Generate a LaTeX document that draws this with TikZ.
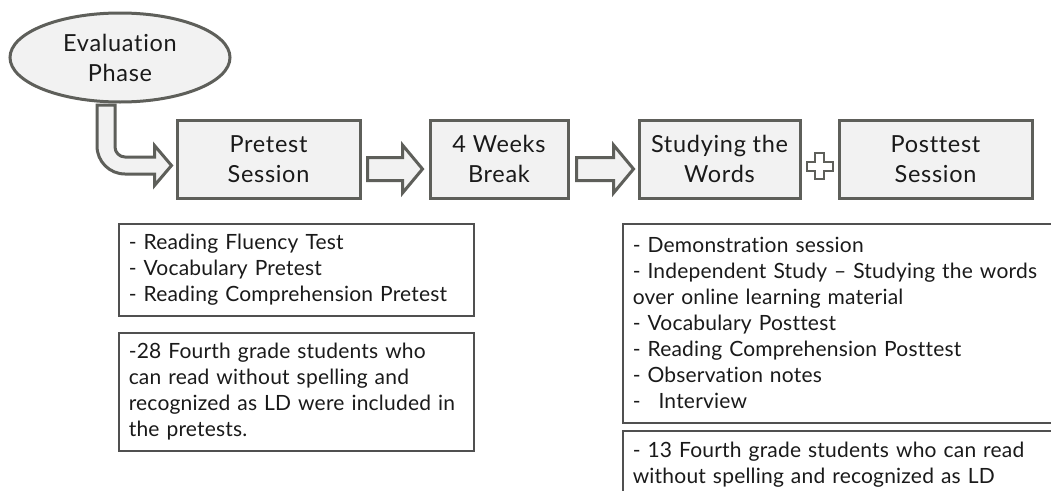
\documentclass[tikz,border=0pt]{standalone}
\usepackage{fontspec}
\setmainfont{Lato}[Ligatures=NoCommon]
\newfontfamily\topfont{Lato}[LetterSpace=3,Ligatures=NoCommon]
\newfontfamily\boxfont{Lato}[LetterSpace=1,Ligatures=NoCommon]
\usetikzlibrary{shapes.geometric,calc}
\definecolor{edgegray}{HTML}{5E5F5A}
\definecolor{boxfill}{HTML}{F2F2F2}
\definecolor{thingray}{HTML}{505050}
\definecolor{inkcol}{HTML}{1A1A1A}
\begin{document}
\begin{tikzpicture}[x=1pt,y=-1pt,
  stage/.style={draw=edgegray, line width=3pt, fill=boxfill, align=center, text=inkcol,
    inner sep=0pt, minimum height=78pt, font=\topfont\fontsize{23.5}{30}\selectfont},
  info/.style={draw=thingray, line width=1.5pt, fill=white, align=left, text=inkcol,
    anchor=north west, inner xsep=10pt, inner ysep=0pt,
    font=\boxfont\fontsize{21}{26}\selectfont},
  barrow/.style={draw=edgegray, line width=3pt, fill=boxfill, line join=miter},
  plusstyle/.style={draw=edgegray, line width=2pt, fill=white, line join=miter}]
\clip (0,0) rectangle (1051,490);
\fill[white] (0,0) rectangle (1051,490);

% nodes
\node[ellipse, draw=edgegray, line width=3pt, fill=boxfill, inner sep=0pt,
  minimum width=220pt, minimum height=89pt, align=center, text=inkcol,
  font=\topfont\fontsize{23.5}{30}\selectfont] (eval) at (120,57.5) {Evaluation\\Phase};

\node[stage, minimum width=183pt] (pre) at (268.5,159) {Pretest\\Session};
\node[stage, minimum width=138pt] (wk) at (499,159) {4 Weeks\\Break};
\node[stage, minimum width=161pt] (stud) at (719.5,159) {Studying the\\Words};
\node[stage, minimum width=193pt] (post) at (935.5,159) {Posttest\\Session};

\node[info, text width=335pt, minimum height=92pt] (lt) at (118,223)
  {- Reading Fluency Test\\- Vocabulary Pretest\\- Reading Comprehension Pretest};
\node[info, text width=335pt, minimum height=118pt] (lb) at (118,332)
  {-28 Fourth grade students who\\can read without spelling and\\recognized as LD were included in\\the pretests.};
\node[info, text width=420pt, minimum height=199pt] (rt) at (622,223)
  {- Demonstration session\\- Independent Study – Studying the words\\over online learning material\\- Vocabulary Posttest\\- Reading Comprehension Posttest\\- Observation notes\\-\hspace{18pt}Interview};
\node[info, text width=420pt, inner ysep=11pt] (rb) at (622,430)
  {- 13 Fourth grade students who can read\\without spelling and recognized as LD};

% bent arrow from evaluation phase to pretest session
\coordinate (bs) at ($(eval.south)+(-14,0)$);
\coordinate (bt) at ($(pre.west)+(-4,6.5)$);
\coordinate (bc) at (bs |- bt);
\draw[barrow] ($(bs)+(-9,1.5)$) -- ($(bs)+(9,1.5)$) -- ($(bc)+(9,-18.5)$)
  .. controls ($(bc)+(9,-13)$) and ($(bc)+(13.5,-8.5)$) .. ($(bc)+(19,-8.5)$)
  -- ($(bt)+(-17,-8.5)$) -- ($(bt)+(-17,-20)$) -- (bt) -- ($(bt)+(-17,20)$)
  -- ($(bt)+(-17,8.5)$) -- ($(bc)+(19,8.5)$)
  .. controls ($(bc)+(3.5,8.5)$) and ($(bc)+(-9,-4)$) .. ($(bc)+(-9,-19.5)$)
  -- cycle;

% block arrows between stages
\coordinate (a1s) at ($(pre.east)+(6,10)$);
\coordinate (a1t) at ($(wk.west)+(-6,10)$);
\draw[barrow] ($(a1s)+(0,-11.5)$) -- ($(a1t)+(-20,-11.5)$) -- ($(a1t)+(-20,-24)$)
  -- (a1t) -- ($(a1t)+(-20,24)$) -- ($(a1t)+(-20,11.5)$) -- ($(a1s)+(0,11.5)$) -- cycle;
\coordinate (a2s) at ($(wk.east)+(7,10)$);
\coordinate (a2t) at ($(stud.west)+(-4,10)$);
\draw[barrow] ($(a2s)+(0,-11.5)$) -- ($(a2t)+(-20,-11.5)$) -- ($(a2t)+(-20,-24)$)
  -- (a2t) -- ($(a2t)+(-20,24)$) -- ($(a2t)+(-20,11.5)$) -- ($(a2s)+(0,11.5)$) -- cycle;

% plus sign
\coordinate (pc) at ($(stud.east)!0.5!(post.west)+(0,7)$);
\draw[plusstyle] ($(pc)+(-4.5,-13)$) -- ($(pc)+(4.5,-13)$) -- ($(pc)+(4.5,-4.5)$)
  -- ($(pc)+(13,-4.5)$) -- ($(pc)+(13,4.5)$) -- ($(pc)+(4.5,4.5)$) -- ($(pc)+(4.5,13)$)
  -- ($(pc)+(-4.5,13)$) -- ($(pc)+(-4.5,4.5)$) -- ($(pc)+(-13,4.5)$) -- ($(pc)+(-13,-4.5)$)
  -- ($(pc)+(-4.5,-4.5)$) -- cycle;
\end{tikzpicture}
\end{document}
